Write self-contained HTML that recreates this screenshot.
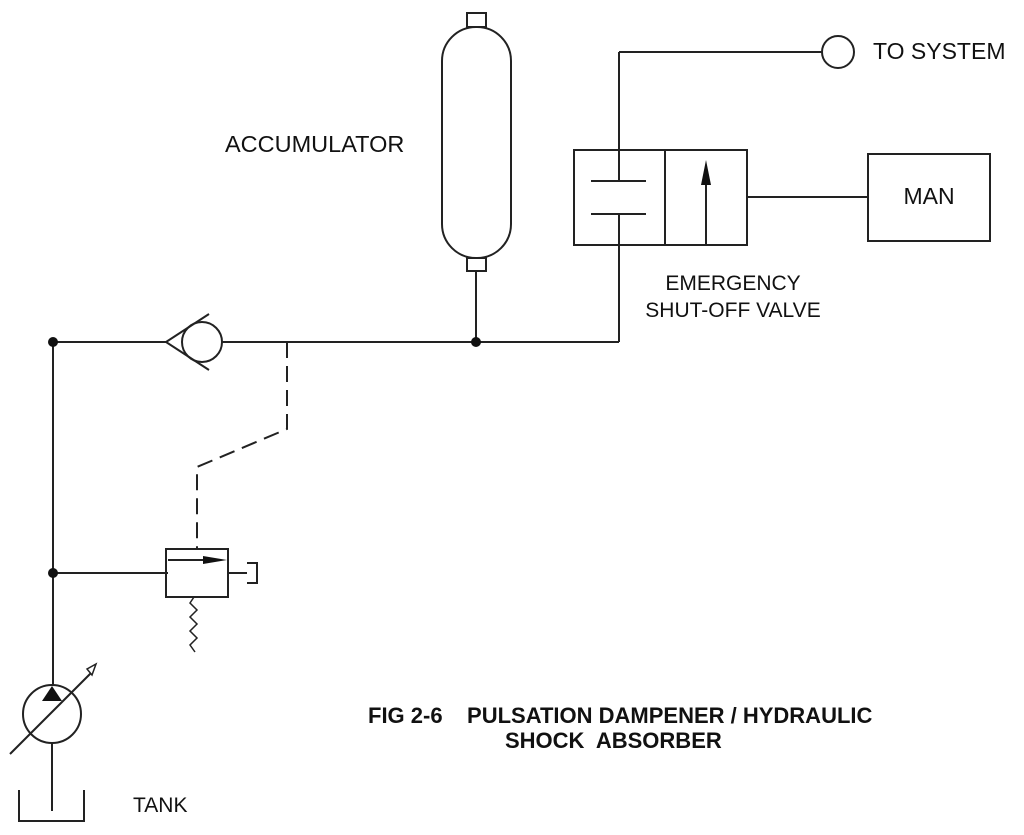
<!DOCTYPE html>
<html><head><style>
html,body{margin:0;padding:0;background:#fff;}
svg{display:block;}
text{font-family:"Liberation Sans",Arial,sans-serif;fill:#111;}
</style></head><body>
<svg width="1024" height="835" viewBox="0 0 1024 835" xmlns="http://www.w3.org/2000/svg">
<g stroke="#222" stroke-width="2" fill="none">
<line x1="53" y1="342" x2="166" y2="342"/>
<line x1="222" y1="342" x2="619" y2="342"/>
<line x1="619" y1="342" x2="619" y2="214"/>
<line x1="619" y1="181" x2="619" y2="52"/>
<line x1="619" y1="52" x2="822" y2="52"/>
<circle cx="838" cy="52" r="16"/>
<line x1="53" y1="342" x2="53" y2="685"/>
<line x1="53" y1="573" x2="168" y2="573"/>
<circle cx="202" cy="342" r="20"/>
<polyline points="209,314 166,342 209,370"/>
<polyline points="287,342 287,429 197,467 197,549" stroke-dasharray="16,8"/>
<rect x="166" y="549" width="62" height="48"/>
<line x1="168" y1="560" x2="213" y2="560"/>
<line x1="228" y1="573" x2="247" y2="573"/>
<polyline points="247,563 257,563 257,583 247,583"/>
<polyline points="194,597 190,603 197,610 190,617 197,624 190,631 197,638 190,645 195,652" stroke-width="1.5"/>
<circle cx="52" cy="714" r="29"/>
<line x1="52" y1="743" x2="52" y2="811"/>
<line x1="10" y1="754" x2="92" y2="672"/>
<polyline points="19,790 19,821 84,821 84,790"/>
<rect x="442" y="27" width="69" height="231" rx="34"/>
<rect x="467" y="13" width="19" height="14"/>
<rect x="467" y="258" width="19" height="13"/>
<line x1="476" y1="271" x2="476" y2="342"/>
<rect x="574" y="150" width="173" height="95"/>
<line x1="665" y1="150" x2="665" y2="245"/>
<line x1="591" y1="181" x2="646" y2="181"/>
<line x1="591" y1="214" x2="646" y2="214"/>
<line x1="706" y1="245" x2="706" y2="175"/>
<line x1="747" y1="197" x2="868" y2="197"/>
<rect x="868" y="154" width="122" height="87"/>
</g>
<g fill="#111">
<circle cx="53" cy="342" r="5"/>
<circle cx="53" cy="573" r="5"/>
<circle cx="476" cy="342" r="5"/>
<polygon points="701,185 706,160 711,185"/>
<polygon points="203,556 227,560 203,564"/>
<polygon points="42,701 52,686 62,701"/>
</g>
<polygon points="87,669 96,664 92,675" fill="#fff" stroke="#222" stroke-width="1.5"/>
<text x="225" y="152" font-size="23.5">ACCUMULATOR</text>
<text x="873" y="59" font-size="23">TO SYSTEM</text>
<text x="929" y="204" font-size="23" text-anchor="middle">MAN</text>
<text x="733" y="290" font-size="21" text-anchor="middle">EMERGENCY</text>
<text x="733" y="317" font-size="21" text-anchor="middle">SHUT-OFF VALVE</text>
<text x="133" y="812" font-size="21">TANK</text>
<text x="368" y="723" font-size="22" font-weight="bold" xml:space="preserve">FIG 2-6    PULSATION DAMPENER / HYDRAULIC</text>
<text x="505" y="748" font-size="22" font-weight="bold" xml:space="preserve">SHOCK  ABSORBER</text>
</svg>
</body></html>
